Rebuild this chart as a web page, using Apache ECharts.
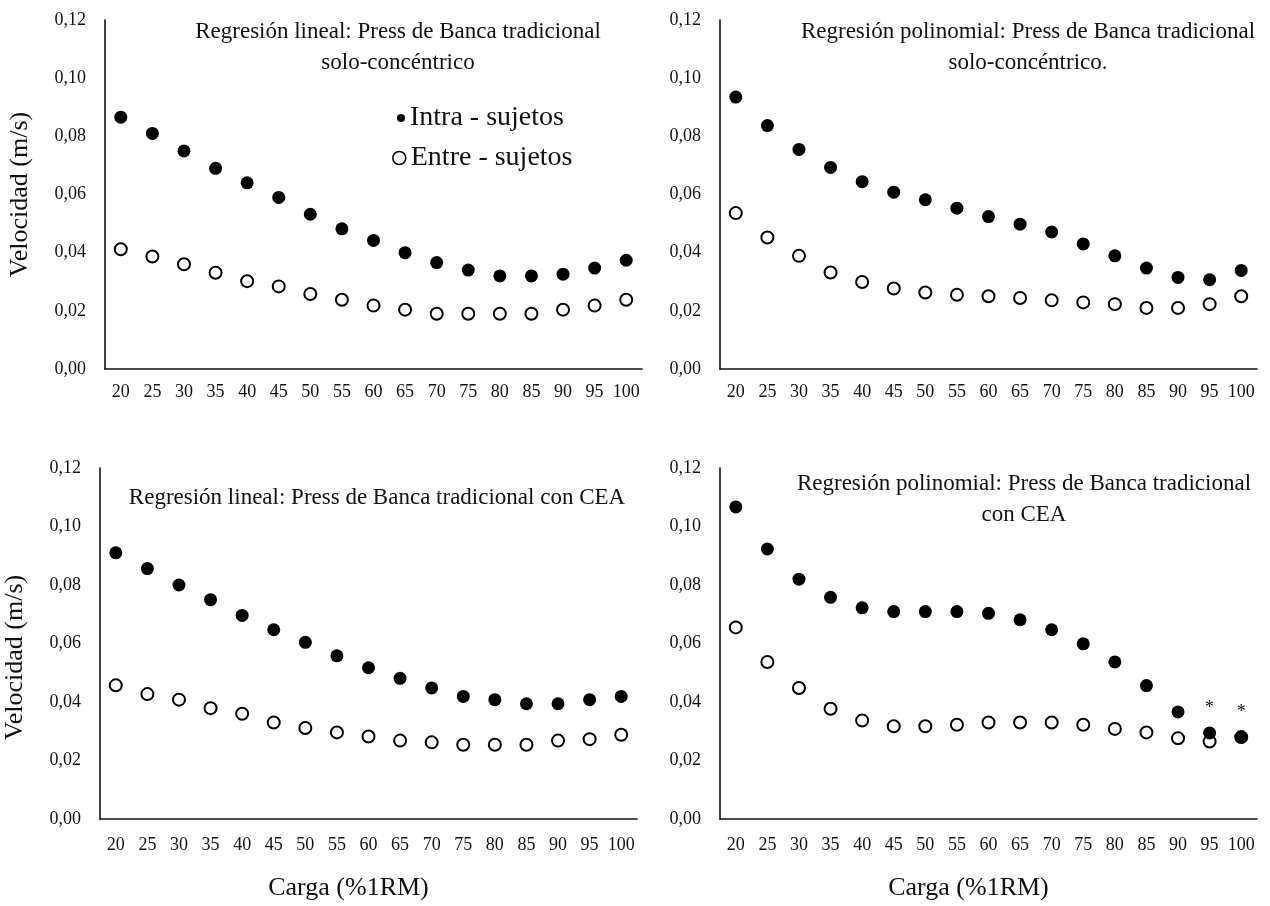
<!DOCTYPE html>
<html>
<head>
<meta charset="utf-8">
<script src="https://cdn.jsdelivr.net/npm/echarts@6/dist/echarts.min.js"></script>
<style>
  html, body { margin: 0; padding: 0; background: #fff; }
  #chart { width: 1270px; height: 906px; }
</style>
</head>
<body>
<div id="chart"></div>
<script>
// Carga (%1RM) categories shared by every panel
const categories = ['20', '25', '30', '35', '40', '45', '50', '55', '60', '65', '70', '75', '80', '85', '90', '95', '100'];

// Regresión lineal, solo-concéntrico
const intraLinSolo = [0.0866, 0.0810, 0.0750, 0.0690, 0.0640, 0.0590, 0.0532, 0.0482, 0.0442, 0.0400, 0.0366, 0.0340, 0.0320, 0.0320, 0.0326, 0.0347, 0.0374];
const entreLinSolo = [0.0412, 0.0387, 0.0360, 0.0331, 0.0302, 0.0284, 0.0258, 0.0238, 0.0218, 0.0204, 0.0190, 0.0190, 0.0190, 0.0190, 0.0204, 0.0218, 0.0238];

// Regresión polinomial, solo-concéntrico
const intraPolSolo = [0.0935, 0.0837, 0.0755, 0.0693, 0.0644, 0.0608, 0.0582, 0.0553, 0.0524, 0.0498, 0.0471, 0.0430, 0.0389, 0.0347, 0.0315, 0.0307, 0.0339];
const entrePolSolo = [0.0536, 0.0452, 0.0389, 0.0332, 0.0299, 0.0277, 0.0263, 0.0255, 0.0250, 0.0244, 0.0236, 0.0229, 0.0223, 0.0210, 0.0210, 0.0223, 0.0250];

// Regresión lineal, con CEA
const intraLinCEA = [0.0910, 0.0856, 0.0800, 0.0750, 0.0696, 0.0647, 0.0604, 0.0558, 0.0517, 0.0481, 0.0448, 0.0419, 0.0408, 0.0394, 0.0394, 0.0408, 0.0419];
const entreLinCEA = [0.0457, 0.0427, 0.0408, 0.0379, 0.0360, 0.0330, 0.0311, 0.0296, 0.0282, 0.0268, 0.0262, 0.0254, 0.0254, 0.0254, 0.0268, 0.0273, 0.0288];

// Regresión polinomial, con CEA
const intraPolCEA = [0.1067, 0.0923, 0.0820, 0.0758, 0.0722, 0.0709, 0.0709, 0.0709, 0.0703, 0.0681, 0.0647, 0.0599, 0.0537, 0.0456, 0.0366, 0.0294, 0.0280];
const entrePolCEA = [0.0655, 0.0537, 0.0448, 0.0377, 0.0337, 0.0317, 0.0317, 0.0322, 0.0330, 0.0330, 0.0330, 0.0322, 0.0308, 0.0296, 0.0276, 0.0265, 0.0280];

// loads flagged with an asterisk in the last panel
const asteriskLoads = ['95', '100'];

const panelTitles = [
  'Regresión lineal: Press de Banca tradicional\nsolo-concéntrico',
  'Regresión polinomial: Press de Banca tradicional\nsolo-concéntrico.',
  'Regresión lineal: Press de Banca tradicional con CEA',
  'Regresión polinomial: Press de Banca tradicional\ncon CEA'
];

const seriesNames = ['Intra - sujetos', 'Entre - sujetos'];
const yAxisName = 'Velocidad (m/s)';
const xAxisName = 'Carga (%1RM)';

const FONT = "'Liberation Serif', 'DejaVu Serif', serif";
const INK = '#111';

const grids = [
  { left: 105, top: 20, width: 537, height: 349 },
  { left: 720, top: 20, width: 537, height: 349 },
  { left: 100, top: 468, width: 537, height: 351 },
  { left: 720, top: 468, width: 537, height: 351 }
];

const titleSpots = [
  { x: 398, y: 16 },
  { x: 1028, y: 16 },
  { x: 377, y: 482 },
  { x: 1024, y: 468 }
];

function xAxisFor(i) {
  const bottom = i >= 2;
  return {
    type: 'category',
    gridIndex: i,
    data: categories,
    boundaryGap: true,
    axisLine: { lineStyle: { color: '#111', width: 1.6 } },
    axisTick: { show: false },
    axisLabel: { color: INK, fontFamily: FONT, fontSize: 18, margin: bottom ? 17 : 14, interval: 0 },
    splitLine: { show: false },
    name: bottom ? xAxisName : '',
    nameLocation: 'middle',
    nameGap: 56,
    nameTextStyle: { color: INK, fontFamily: FONT, fontSize: 26, padding: [0, 40, 0, 0] }
  };
}

function yAxisFor(i) {
  const left = i % 2 === 0;
  return {
    type: 'value',
    gridIndex: i,
    min: 0,
    max: 0.12,
    interval: 0.02,
    axisLine: { show: true, lineStyle: { color: '#111', width: 1.6 } },
    axisTick: { show: false },
    splitLine: { show: false },
    axisLabel: {
      color: INK, fontFamily: FONT, fontSize: 18, margin: 19,
      formatter: v => v.toFixed(2).replace('.', ',')
    },
    name: left ? yAxisName : '',
    nameLocation: 'middle',
    nameGap: 72,
    nameTextStyle: { color: INK, fontFamily: FONT, fontSize: 26, padding: i === 2 ? [0, 28, 0, 0] : 0 }
  };
}

const filledStyle = { color: '#000', opacity: 1 };
const hollowStyle = { color: 'rgba(0,0,0,0)', borderColor: '#000', borderWidth: 2, opacity: 1 };

const panelData = [
  [intraLinSolo, entreLinSolo],
  [intraPolSolo, entrePolSolo],
  [intraLinCEA, entreLinCEA],
  [intraPolCEA, entrePolCEA]
];

const series = [];
panelData.forEach((pair, i) => {
  const intra = pair[0].map((v, k) => {
    if (i === 3 && asteriskLoads.includes(categories[k])) {
      return {
        value: v,
        label: {
          show: true, formatter: '*', position: 'top', distance: 9,
          color: INK, fontFamily: FONT, fontSize: 18
        }
      };
    }
    return v;
  });
  series.push({
    name: seriesNames[0], type: 'scatter', xAxisIndex: i, yAxisIndex: i,
    symbol: 'circle', symbolSize: 13, itemStyle: filledStyle, data: intra,
    emphasis: { disabled: true }
  });
  series.push({
    name: seriesNames[1], type: 'scatter', xAxisIndex: i, yAxisIndex: i,
    symbol: 'circle', symbolSize: 12, itemStyle: hollowStyle, data: pair[1],
    emphasis: { disabled: true }
  });
});

const legendText = { color: INK, fontFamily: FONT, fontSize: 28 };

const option = {
  animation: false,
  backgroundColor: '#fff',
  title: panelTitles.map((t, i) => ({
    text: t,
    left: titleSpots[i].x,
    top: titleSpots[i].y,
    textAlign: 'center',
    padding: 0,
    textStyle: { color: INK, fontFamily: FONT, fontSize: 23, fontWeight: 'normal', lineHeight: 31 }
  })),
  legend: [
    {
      data: [{ name: seriesNames[0], icon: 'circle', itemStyle: { color: '#000', opacity: 1 } }],
      left: 397, top: 104, itemWidth: 8, itemHeight: 8, padding: 0,
      selectedMode: false, textStyle: legendText
    },
    {
      data: [{ name: seriesNames[1], icon: 'circle', itemStyle: { color: 'rgba(0,0,0,0)', borderColor: '#000', borderWidth: 1.5, opacity: 1 } }],
      left: 392, top: 144, itemWidth: 13, itemHeight: 13, padding: 0,
      selectedMode: false, textStyle: legendText
    }
  ],
  grid: grids,
  xAxis: grids.map((g, i) => xAxisFor(i)),
  yAxis: grids.map((g, i) => yAxisFor(i)),
  series: series
};

const chart = echarts.init(document.getElementById('chart'), null, { renderer: 'canvas' });
chart.setOption(option);
</script>
</body>
</html>
